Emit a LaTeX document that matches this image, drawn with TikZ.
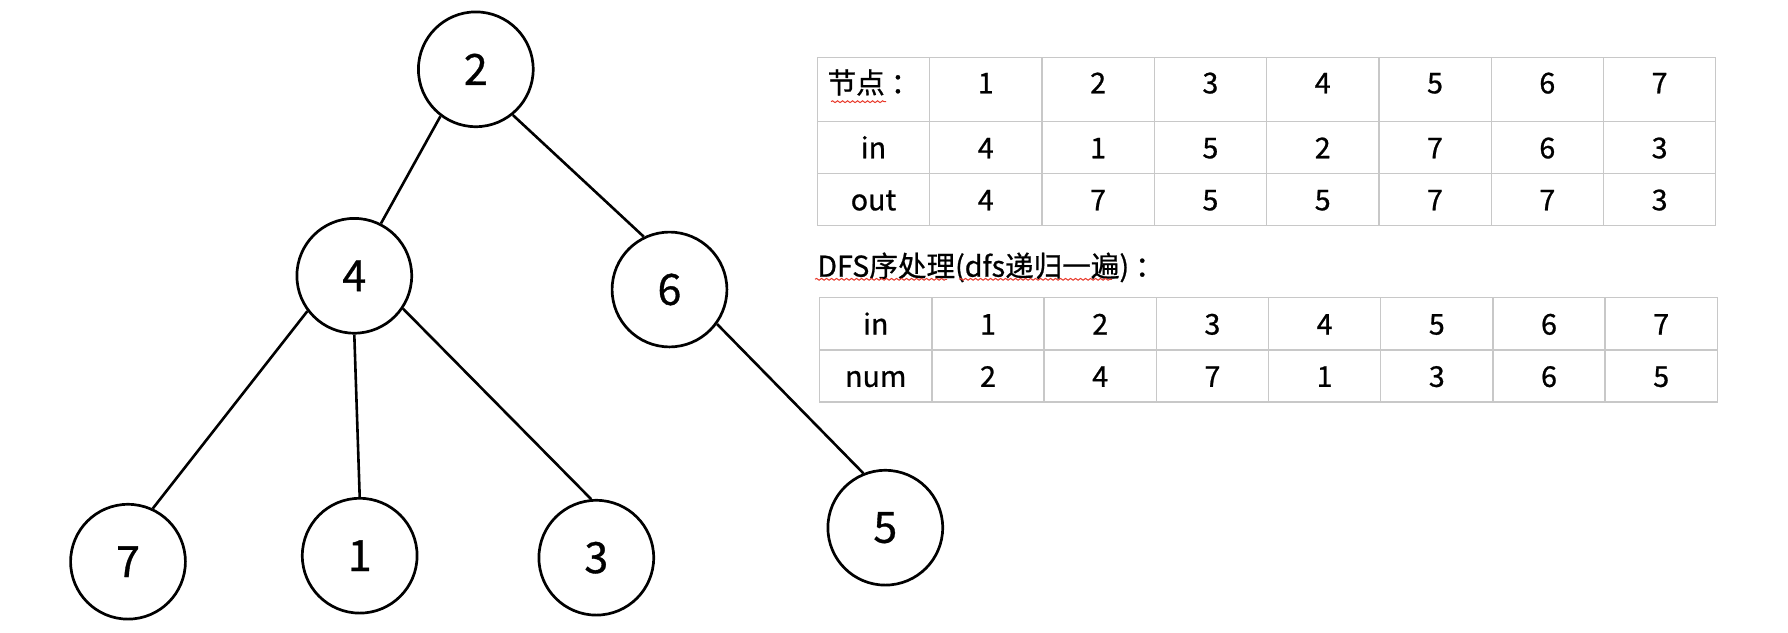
\documentclass[tikz,border=0pt]{standalone}
\usepackage{fontspec}
\setmainfont{Noto Sans CJK SC}[FakeBold=0.8]
\definecolor{gridgray}{HTML}{C8C8C8}
\definecolor{spellred}{HTML}{E8392B}
\usetikzlibrary{%
    decorations.pathmorphing,
}
\tikzset{%
    vertex/.style = {
        circle,
        draw,
        line width=1.35pt,
        minimum size=57.4pt,
        inner sep=0pt,
        font=\fontsize{21.5pt}{24pt}\selectfont,
    },
    treeedge/.style = {
        line width=1.3pt,
    },
    cell/.style = {
        rectangle,
        draw=gridgray,
        line width=0.65pt,
        inner sep=0pt,
        minimum width=56.15pt,
        minimum height=26pt,
        text height=10.9pt,
        text depth=0pt,
        anchor=north west,
        font=\fontsize{14.3pt}{16pt}\selectfont,
    },
    headcell/.style = {
        cell,
        minimum height=32pt,
        text depth=6.9pt,
    },
    squiggle/.style = {
        draw=spellred,
        line width=0.5pt,
        decorate,
        decoration={snake, amplitude=0.45pt, segment length=2.5pt},
    },
}

\begin{document}
\begin{tikzpicture}[x=0.5pt, y=-0.5pt]
    \useasboundingbox (0,0) rectangle (1788,632);

    % the tree
    \node [vertex] (n2) at (475.8,69.3) {2};
    \node [vertex] (n4) at (354.3,275.8) {4};
    \node [vertex] (n6) at (669.5,289.5) {6};
    \node [vertex] (n7) at (128,561.7) {7};
    \node [vertex] (n1) at (359.7,555.7) {1};
    \node [vertex] (n3) at (596.3,557.7) {3};
    \node [vertex] (n5) at (885.3,527.7) {5};
    \draw [treeedge] (n2.233) -- (n4.63);
    \draw [treeedge] (n2.-51) -- (n6.116);
    \draw [treeedge] (n4.217) -- (n7.65);
    \draw [treeedge] (n4.south) -- (n1.north);
    \draw [treeedge] (n4.-34) -- (n3.95);
    \draw [treeedge] (n6.-36) -- (n5.112);

    % in / out table
    \foreach \lbl [count=\c from 0] in {节点\hspace{3pt}：,1,2,3,4,5,6,7}
        \node [headcell] (node-\c) at (816.7+\c*112.3, 56.7) {\lbl};
    \foreach \lbl [count=\c from 0] in {in,4,1,5,2,7,6,3}
        \node [cell] (in-\c) at (816.7+\c*112.3, 120.7) {\lbl};
    \foreach \lbl [count=\c from 0] in {out,4,7,5,5,7,7,3}
        \node [cell] (out-\c) at (816.7+\c*112.3, 172.7) {\lbl};

    % dfs order table
    \node [anchor=base west, inner sep=0pt, font=\fontsize{14.3pt}{16pt}\selectfont] (caption)
        at (817,276.7) {DFS序处理(dfs递归一遍)\hspace{3pt}：};
    \foreach \lbl [count=\c from 0] in {in,1,2,3,4,5,6,7}
        \node [cell] (dfsin-\c) at (819+\c*112.2, 297) {\lbl};
    \foreach \lbl [count=\c from 0] in {num,2,4,7,1,3,6,5}
        \node [cell] (num-\c) at (819+\c*112.2, 349.3) {\lbl};

    % spell check marks
    \draw [squiggle] (831,101.7) -- (886,101.7);
    \draw [squiggle] (815,279.3) -- (947,279.3);
    \draw [squiggle] (959,279.3) -- (1112,279.3);
\end{tikzpicture}
\end{document}
